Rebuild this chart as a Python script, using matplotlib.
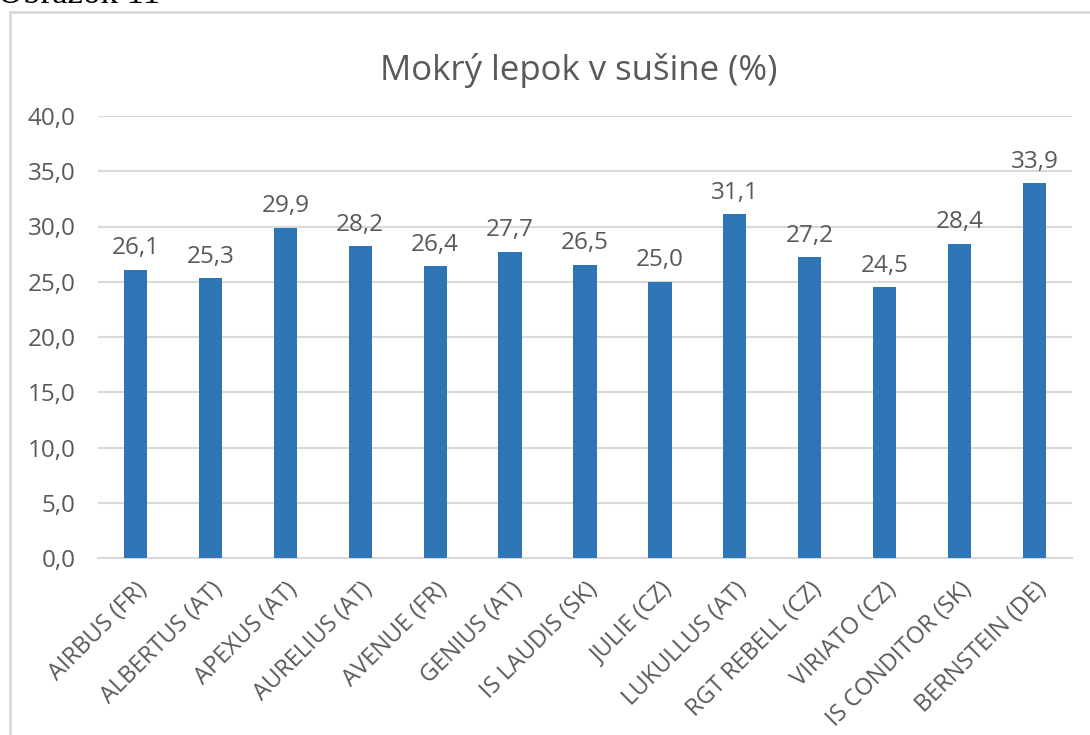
import matplotlib
matplotlib.use('Agg')
import matplotlib.pyplot as plt
from matplotlib.patches import Rectangle
import numpy as np

# data
varieties = ['AIRBUS (FR)', 'ALBERTUS (AT)', 'APEXUS (AT)', 'AURELIUS (AT)',
             'AVENUE (FR)', 'GENIUS (AT)', 'IS LAUDIS (SK)', 'JULIE (CZ)',
             'LUKULLUS (AT)', 'RGT REBELL (CZ)', 'VIRIATO (CZ)',
             'IS CONDITOR (SK)', 'BERNSTEIN (DE)']
gluten = [26.1, 25.3, 29.9, 28.2, 26.4, 27.7, 26.5, 25.0, 31.1, 27.2, 24.5, 28.4, 33.9]
y_ticks = [0, 5, 10, 15, 20, 25, 30, 35, 40]

bar_color = '#2E75B6'
text_color = '#595959'
grid_color = '#D9D9D9'

plt.rcParams['font.family'] = ['Open Sans', 'DejaVu Sans']

fig = plt.figure(figsize=(10.9, 7.35), dpi=100)
ax = fig.add_axes([98/1090, 1 - 558/735, 974/1090, 442/735])

x = np.arange(len(varieties))
bars = ax.bar(x, gluten, width=0.31, color=bar_color, zorder=3)

ax.set_xlim(-0.5, len(varieties) - 0.5)
ax.set_ylim(0, 40)
ax.set_yticks(y_ticks)
ax.set_yticklabels([f'{v:.1f}'.replace('.', ',') for v in y_ticks],
                   fontsize=17.5, color=text_color)
ax.yaxis.grid(True, color=grid_color, linewidth=1.5, zorder=0)
ax.tick_params(axis='both', length=0)
ax.tick_params(axis='y', pad=16)

ax.set_xticks(x)
ax.set_xticklabels(varieties, rotation=45, ha='right', rotation_mode='anchor',
                   fontsize=17, color=text_color)
ax.tick_params(axis='x', pad=14)

for s in ['top', 'right', 'left']:
    ax.spines[s].set_visible(False)
ax.spines['bottom'].set_color(grid_color)
ax.spines['bottom'].set_linewidth(1.5)

for b, v in zip(bars, gluten):
    ax.annotate(f'{v:.1f}'.replace('.', ','), (b.get_x() + b.get_width() / 2, v),
                xytext=(0, 7), textcoords='offset points', ha='center', va='bottom',
                fontsize=17.5, color=text_color)

fig.text(579/1090, 1 - 70/735, 'Mokrý lepok v sušine (%)', ha='center', va='center',
         fontsize=25, color=text_color)

# chart frame and the caption cut at the top of the page
fig.patches.append(Rectangle((10/1090, -0.1), 1.2, 1 - 12/735 + 0.1,
                             transform=fig.transFigure, fill=False,
                             edgecolor=grid_color, linewidth=2))
fig.text(-2/1090, 1 - 3/735, 'Obrázok 11', ha='left', va='baseline',
         fontsize=25, family='Liberation Serif', color='black')

fig.savefig('out.png', dpi=100)
